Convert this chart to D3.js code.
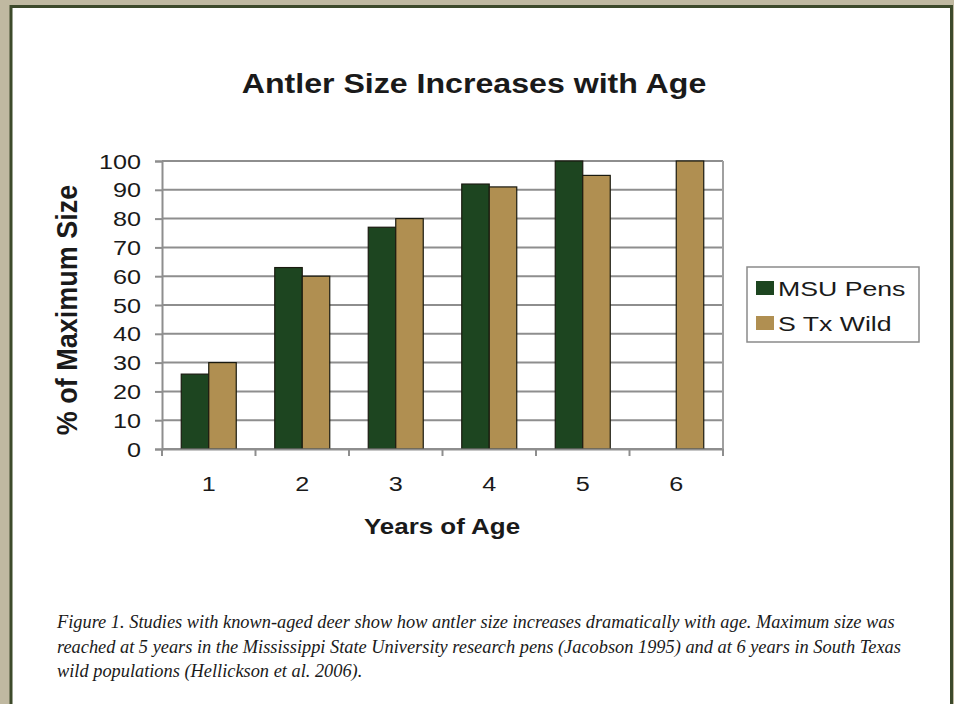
<!DOCTYPE html>
<html><head><meta charset="utf-8">
<script src="https://cdn.jsdelivr.net/npm/d3@7"></script>
<style>
html,body{margin:0;padding:0;background:#c0b9a1;overflow:hidden}
svg{display:block}
</style></head>
<body>
<script>
const categories = ["1","2","3","4","5","6"];
const seriesNames = ["MSU Pens","S Tx Wild"];
const msuPens = [26, 63, 77, 92, 100, null];
const stxWild = [30, 60, 80, 91, 95, 100];
const yTicks = [0,10,20,30,40,50,60,70,80,90,100];
const colors = ["#1d4520", "#b08f51"];
const title = "Antler Size Increases with Age";
const xTitle = "Years of Age";
const yTitle = "% of Maximum Size";
const captionLines = [
 "Figure 1. Studies with known-aged deer show how antler size increases dramatically with age. Maximum size was",
 "reached at 5 years in the Mississippi State University research pens (Jacobson 1995) and at 6 years in South Texas",
 "wild populations (Hellickson et al. 2006)."
];

const W = 954, H = 704, SX = 1.18;
const svg = d3.select("body").append("svg").attr("width", W).attr("height", H);
svg.append("rect").attr("width", W).attr("height", H).attr("fill", "#c0b9a1");
svg.append("rect").attr("x", 11).attr("y", 6.5).attr("width", 940.5).attr("height", 760)
  .attr("fill", "#fff").attr("stroke", "#3d4a2b").attr("stroke-width", 3);

const plot = {l:162, r:723, t:161, b:449};
const x = d3.scaleBand().domain(categories).range([plot.l, plot.r]).padding(0);
const xi = d3.scaleBand().domain(seriesNames).range([0, x.bandwidth()]).paddingInner(0).paddingOuter(0.7);
const y = d3.scaleLinear().domain([0,100]).range([plot.b, plot.t]);

function stext(g, tx, ty, str, opts) {
  const grp = g.append("g").attr("transform", `translate(${tx},${ty}) scale(${opts.sx||SX},1)` + (opts.rot ? ` rotate(${opts.rot})` : ""));
  return grp.append("text").text(str)
    .attr("font-family", opts.family || "'Liberation Sans', Arial, sans-serif")
    .attr("font-size", opts.size).attr("font-weight", opts.weight || "normal")
    .attr("font-style", opts.style || "normal")
    .attr("text-anchor", opts.anchor || "start").attr("fill", opts.fill || "#1a1a1a");
}

// gridlines
svg.append("g").selectAll("line").data(yTicks).join("line")
  .attr("x1", plot.l).attr("x2", plot.r)
  .attr("y1", d => y(d)).attr("y2", d => y(d))
  .attr("stroke", "#8e8e8e").attr("stroke-width", 2);
// right border of plot
svg.append("line").attr("x1", plot.r).attr("x2", plot.r).attr("y1", plot.t).attr("y2", plot.b)
  .attr("stroke", "#a0a0a0").attr("stroke-width", 2);

// bars
const series = [msuPens, stxWild];
const barData = [];
categories.forEach((c, i) => series.forEach((s, j) => {
  if (s[i] != null) barData.push({c, name: seriesNames[j], v: s[i], color: colors[j]});
}));
svg.append("g").selectAll("rect").data(barData).join("rect")
  .attr("x", d => x(d.c) + xi(d.name)).attr("width", xi.bandwidth())
  .attr("y", d => y(d.v)).attr("height", d => y(0) - y(d.v))
  .attr("fill", d => d.color).attr("stroke", "#1a1a10").attr("stroke-width", 1.2);

// y axis
const yAxis = d3.axisLeft(y).tickValues(yTicks).tickSize(7).tickFormat("");
const ya = svg.append("g").attr("transform", `translate(${plot.l},0)`).call(yAxis);
ya.select(".domain").attr("stroke", "#8e8e8e").attr("stroke-width", 2);
ya.selectAll(".tick line").attr("stroke", "#8e8e8e").attr("stroke-width", 2);
yTicks.forEach(t => stext(svg, 141, y(t) + 7.5, String(t), {size: 21, anchor: "end", sx: 1.2}));

// x axis
const xAxis = d3.axisBottom(x).tickSize(0).tickFormat("");
const xa = svg.append("g").attr("transform", `translate(0,${plot.b})`).call(xAxis);
xa.select(".domain").attr("stroke", "#8e8e8e").attr("stroke-width", 2);
const xSep = d3.range(categories.length + 1).map(i => plot.l + i * x.step());
svg.append("g").selectAll("line").data(xSep).join("line")
  .attr("x1", d => d).attr("x2", d => d).attr("y1", plot.b).attr("y2", plot.b + 7)
  .attr("stroke", "#8e8e8e").attr("stroke-width", 2);
categories.forEach(c => stext(svg, x(c) + x.bandwidth()/2, 491, c, {size: 21, anchor: "middle", sx: 1.2}));

// titles
stext(svg, 474, 93, title, {size: 27, weight: "bold", anchor: "middle", sx: 1.19});
stext(svg, 442, 534, xTitle, {size: 22, weight: "bold", anchor: "middle", sx: 1.18});
stext(svg, 77, 310, yTitle, {size: 27, weight: "bold", anchor: "middle", sx: 1.12, rot: -90});

// legend
svg.append("rect").attr("x", 747).attr("y", 267).attr("width", 172).attr("height", 75)
  .attr("fill", "#fff").attr("stroke", "#8a8a8a").attr("stroke-width", 1.5);
seriesNames.forEach((n, i) => {
  const cy = 288 + i * 35;
  svg.append("rect").attr("x", 756).attr("y", cy - 7).attr("width", 18).attr("height", 14)
    .attr("fill", colors[i]);
  stext(svg, 778, cy + 8, n, {size: 21, sx: 1.27});
});

// caption
captionLines.forEach((line, i) => {
  stext(svg, 57, 628 + i * 24.5, line, {size: 18, style: "italic", family: "'Liberation Serif', 'DejaVu Serif', serif", fill: "#1a1a1a", sx: 1.02});
});
</script>
</body></html>
